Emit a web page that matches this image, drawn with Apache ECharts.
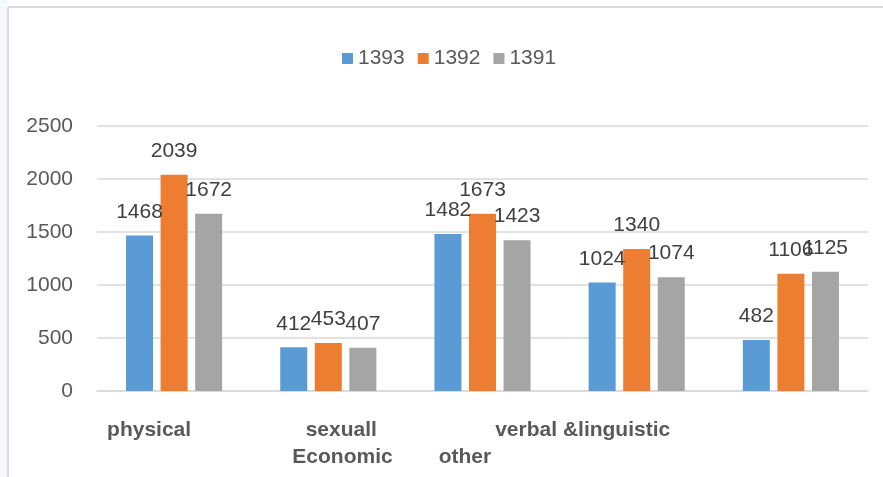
<!DOCTYPE html>
<html>
<head>
<meta charset="utf-8">
<script src="https://cdn.jsdelivr.net/npm/echarts@6/dist/echarts.min.js"></script>
<style>
html,body{margin:0;padding:0;background:#fff;}
#main{width:883px;height:477px;}
</style>
</head>
<body>
<div id="main"></div>
<script>
const categories = ['physical', 'sexuall', 'Economic', 'verbal &linguistic', 'other'];
const seriesNames = ['1393', '1392', '1391'];
const values1393 = [1468, 412, 1482, 1024, 482];
const values1392 = [2039, 453, 1673, 1340, 1106];
const values1391 = [1672, 407, 1423, 1074, 1125];
const yTicks = { min: 0, max: 2500, interval: 500 };

// label placement tweaks (horizontal shift in px, row index) for each category label
const labelShift = [-25, 13, -140, -54, -326];
const labelRow = [0, 0, 1, 0, 1];

const colors = ['#5b9bd5', '#ed7d31', '#a5a5a5'];
const FONT = '"Liberation Sans", Arial, sans-serif';

const rich = {};
categories.forEach((c, i) => {
  const dx = labelShift[i];
  rich['c' + i] = {
    fontFamily: FONT,
    fontSize: 21,
    fontWeight: 'bold',
    color: '#595959',
    padding: [labelRow[i] * 27, dx < 0 ? -2 * dx : 0, 0, dx > 0 ? 2 * dx : 0]
  };
});

const chart = echarts.init(document.getElementById('main'));
const data = [values1393, values1392, values1391];

chart.setOption({
  animation: false,
  backgroundColor: '#ffffff',
  color: colors,
  textStyle: { fontFamily: FONT },
  legend: {
    data: seriesNames,
    left: 337,
    top: 43,
    icon: 'rect',
    itemWidth: 11,
    itemHeight: 11,
    itemGap: 13,
    textStyle: { fontSize: 21, color: '#595959', fontFamily: FONT }
  },
  grid: { left: 97, right: 15, top: 126, bottom: 86, containLabel: false },
  xAxis: {
    type: 'category',
    data: categories,
    axisLine: { show: true, lineStyle: { color: '#d9d9d9', width: 1.5 } },
    axisTick: { show: false },
    axisLabel: {
      interval: 0,
      margin: 29,
      verticalAlign: 'top',
      formatter: (v, i) => '{c' + i + '|' + v + '}',
      rich: rich
    }
  },
  yAxis: {
    type: 'value',
    min: yTicks.min,
    max: yTicks.max,
    interval: yTicks.interval,
    axisLine: { show: false },
    axisTick: { show: false },
    splitLine: { lineStyle: { color: '#d9d9d9', width: 1.5 } },
    axisLabel: { fontSize: 21, color: '#595959', margin: 24, fontFamily: FONT, formatter: (v) => String(v) }
  },
  series: seriesNames.map((n, k) => ({
    name: n,
    type: 'bar',
    data: data[k],
    barWidth: 27,
    barGap: '28%',
    label: {
      show: true,
      position: 'top',
      distance: 13,
      fontSize: 21,
      color: '#404040',
      fontFamily: FONT
    }
  })),
  graphic: [
    { type: 'rect', shape: { x: 0, y: 0, width: 8, height: 477 }, style: { fill: '#f7f8fa' }, silent: true },
    { type: 'line', shape: { x1: 8, y1: 7, x2: 883, y2: 7 }, style: { stroke: '#dadada', lineWidth: 2 }, silent: true },
    { type: 'line', shape: { x1: 8, y1: 7, x2: 8, y2: 477 }, style: { stroke: '#dadada', lineWidth: 2 }, silent: true }
  ]
});
</script>
</body>
</html>
